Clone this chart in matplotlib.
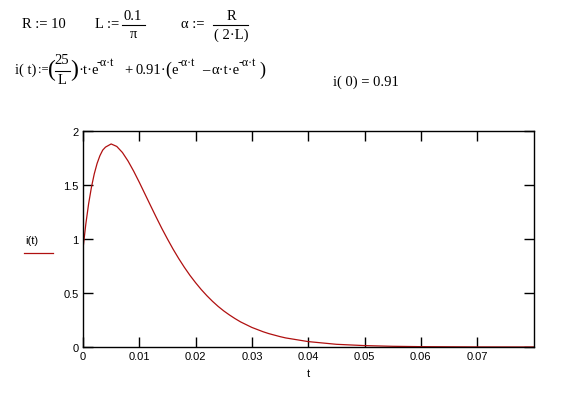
import matplotlib
matplotlib.use('Agg')
import matplotlib.pyplot as plt

t_vals = [0.0, 0.0005, 0.001, 0.0015, 0.002, 0.0025, 0.003, 0.0035, 0.004, 0.005,
          0.006, 0.007, 0.008, 0.009, 0.010, 0.011, 0.012, 0.013, 0.014, 0.015,
          0.016, 0.017, 0.018, 0.019, 0.020, 0.021, 0.022, 0.023, 0.024, 0.025,
          0.026, 0.027, 0.028, 0.030, 0.032, 0.033, 0.035, 0.036, 0.040, 0.045,
          0.050, 0.055, 0.060, 0.070, 0.080]
i_vals = [0.91, 1.138, 1.327, 1.480, 1.603, 1.699, 1.771, 1.823, 1.851, 1.880,
          1.857, 1.801, 1.722, 1.628, 1.525, 1.417, 1.309, 1.202, 1.098, 1.000,
          0.906, 0.819, 0.738, 0.663, 0.595, 0.532, 0.475, 0.423, 0.376, 0.334,
          0.297, 0.263, 0.232, 0.181, 0.141, 0.124, 0.096, 0.084, 0.050, 0.025,
          0.013, 0.0064, 0.0032, 0.0008, 0.0002]

x_ticks = [0, 0.01, 0.02, 0.03, 0.04, 0.05, 0.06, 0.07]
x_labels = ['0', '0.01', '0.02', '0.03', '0.04', '0.05', '0.06', '0.07']
y_ticks = [0, 0.5, 1, 1.5, 2]
y_labels = ['0', '0.5', '1', '1.5', '2']

W, H = 584, 410
RED = '#b01010'
SERIF = 'Liberation Serif'

fig = plt.figure(figsize=(W / 100, H / 100), dpi=100)
fig.patch.set_facecolor('white')


def T(x, y, s, size=10.5, ha='left', va='center'):
    # text placed in pixel coords (from top-left)
    fig.text(x / W, 1 - y / H, s, fontsize=size, family=SERIF, ha=ha, va=va)


def bar(x0, x1, y):
    fig.add_artist(plt.Line2D([x0 / W, x1 / W], [1 - y / H, 1 - y / H],
                              color='black', linewidth=0.8))


# row 1: definitions
T(22, 25, 'R := 10')
T(95, 25, 'L :=')
T(133, 17, '0.1', ha='center')
bar(122, 145, 26)
T(133, 35, 'π', ha='center')
T(181, 25, 'α :=')
T(231, 17, 'R', ha='center')
bar(213, 248, 26)
T(231, 35, '( 2·L)', ha='center')

# row 2: i(t) definition
T(15, 70, 'i( t)')
T(38, 70, ':=', size=9)
T(56, 70, '(', size=17, ha='right')
T(62, 61, '25', ha='center')
bar(55, 70, 72)
T(62, 81, 'L', ha='center')
T(78, 70, ')', size=17, ha='right')
T(78, 71, '·t·e')
T(97, 63, '-α·t', size=8.5)
T(124, 71, '+')
T(135, 71, '0.91·')
T(165, 70, '(', size=13)
T(171, 71, 'e')
T(178, 63, '-α·t', size=8.5)
T(202, 71, '–')
T(212, 71, 'α·t·e')
T(239, 63, '-α·t', size=8.5)
T(259, 70, ')', size=13)

T(333, 82, 'i( 0) = 0.91')

# plot region
left, right, top, bottom = 83, 534, 132, 348
ax = fig.add_axes([left / W, 1 - bottom / H, (right - left) / W, (bottom - top) / H])
ax.plot(t_vals, i_vals, color=RED, linewidth=0.9)
ax.set_xlim(0, 0.0801)
ax.set_ylim(0, 2)
ax.set_xticks(x_ticks)
ax.set_xticklabels(x_labels)
ax.set_yticks(y_ticks)
ax.set_yticklabels(y_labels)
ax.tick_params(direction='in', length=7, width=1, labelsize=8, colors='black',
               top=True, right=True, pad=3)
for lab in ax.get_xticklabels() + ax.get_yticklabels():
    lab.set_family('Liberation Sans')
for s in ax.spines.values():
    s.set_linewidth(1)
ax.set_xlabel('t', fontsize=8, family='Liberation Sans', labelpad=5)

# legend in Mathcad style
fig.text(25 / W, 1 - 241 / H, 'i(t)', fontsize=8, family='Liberation Sans', va='center', ha='left')
fig.add_artist(plt.Line2D([24 / W, 53 / W], [1 - 254 / H, 1 - 254 / H], color=RED, linewidth=0.9))

fig.savefig('out.png', dpi=100)
